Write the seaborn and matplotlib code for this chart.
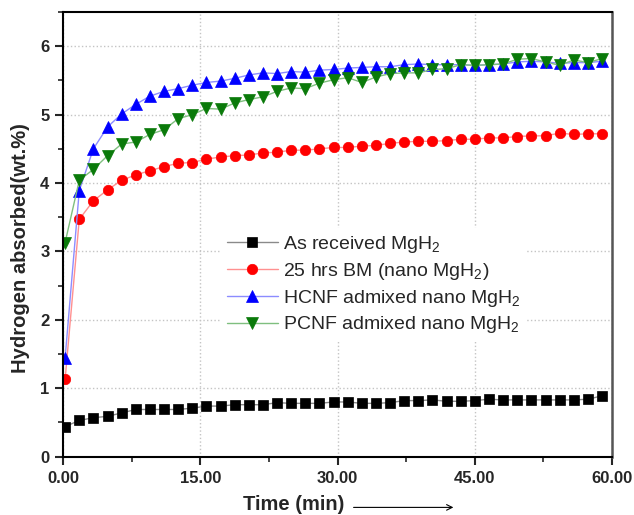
import numpy as np
import pandas as pd
import matplotlib
matplotlib.use("Agg")
import matplotlib.pyplot as plt
import seaborn as sns
from matplotlib.ticker import MultipleLocator, FormatStrFormatter

# time points (min)
time_min = [0.20, 1.75, 3.29, 4.84, 6.38, 7.93, 9.47, 11.02, 12.56, 14.11,
            15.65, 17.20, 18.74, 20.29, 21.83, 23.38, 24.92, 26.47, 28.01, 29.56,
            31.10, 32.65, 34.19, 35.74, 37.28, 38.83, 40.37, 41.92, 43.46, 45.01,
            46.55, 48.10, 49.64, 51.19, 52.73, 54.28, 55.82, 57.37, 58.91]

as_received = [0.44, 0.53, 0.57, 0.59, 0.64, 0.69, 0.69, 0.69, 0.69, 0.71,
               0.74, 0.74, 0.76, 0.76, 0.76, 0.79, 0.78, 0.78, 0.78, 0.80,
               0.80, 0.78, 0.78, 0.79, 0.82, 0.82, 0.83, 0.81, 0.81, 0.82,
               0.84, 0.83, 0.83, 0.83, 0.83, 0.83, 0.83, 0.84, 0.89]

bm_25h = [1.13, 3.47, 3.74, 3.90, 4.04, 4.12, 4.18, 4.24, 4.29, 4.30,
          4.35, 4.38, 4.40, 4.41, 4.44, 4.45, 4.48, 4.48, 4.50, 4.52,
          4.52, 4.54, 4.55, 4.58, 4.60, 4.61, 4.61, 4.62, 4.64, 4.64,
          4.66, 4.66, 4.68, 4.69, 4.69, 4.73, 4.71, 4.72, 4.72]

hcnf = [1.44, 3.89, 4.50, 4.82, 5.01, 5.15, 5.27, 5.34, 5.38, 5.43,
        5.47, 5.49, 5.53, 5.58, 5.61, 5.60, 5.63, 5.62, 5.65, 5.66,
        5.68, 5.69, 5.70, 5.70, 5.73, 5.74, 5.73, 5.73, 5.73, 5.72,
        5.73, 5.74, 5.77, 5.78, 5.77, 5.75, 5.76, 5.76, 5.78]

pcnf = [3.13, 4.04, 4.20, 4.40, 4.57, 4.60, 4.71, 4.78, 4.94, 5.00,
        5.09, 5.08, 5.17, 5.22, 5.26, 5.34, 5.39, 5.38, 5.46, 5.51,
        5.54, 5.47, 5.55, 5.60, 5.61, 5.61, 5.66, 5.67, 5.73, 5.72,
        5.73, 5.74, 5.81, 5.82, 5.77, 5.72, 5.80, 5.76, 5.82]

labels = ["As received MgH$_2$", "25 hrs BM (nano MgH$_2$)",
          "HCNF admixed nano MgH$_2$", "PCNF admixed nano MgH$_2$"]

sns.set_style("white")
plt.rcParams["font.family"] = ["Liberation Sans", "DejaVu Sans"]
plt.rcParams["mathtext.fontset"] = "custom"
plt.rcParams["mathtext.rm"] = "Liberation Sans"
plt.rcParams["mathtext.it"] = "Liberation Sans:italic"
plt.rcParams["mathtext.bf"] = "Liberation Sans:bold"

df = pd.concat([
    pd.DataFrame({"time": time_min, "h2": vals, "sample": lab})
    for vals, lab in zip([as_received, bm_25h, hcnf, pcnf], labels)
])

styles = {
    labels[0]: dict(marker="s", ms=6.5, color="#8a8a8a", mc="black"),
    labels[1]: dict(marker="o", ms=7.5, color="#ff9090", mc="#ff0000"),
    labels[2]: dict(marker="^", ms=8.8, color="#8c8cff", mc="#0000ff"),
    labels[3]: dict(marker="v", ms=8.8, color="#7fbf7f", mc="#0a7a0a"),
}

fig = plt.figure(figsize=(6.34, 5.15), dpi=100)
ax = fig.add_axes([0.0998, 0.1132, 0.8655, 0.8635])

for lab in labels:
    st = styles[lab]
    sns.lineplot(data=df[df["sample"] == lab], x="time", y="h2", ax=ax,
                 errorbar=None, color=st["color"], lw=1.0,
                 marker=st["marker"], ms=st["ms"],
                 markerfacecolor=st["mc"], markeredgecolor=st["mc"],
                 markeredgewidth=0.5, label=lab)

ax.set_xlim(0, 60)
ax.set_ylim(0, 6.5)
ax.xaxis.set_major_locator(MultipleLocator(15))
ax.xaxis.set_minor_locator(MultipleLocator(7.5))
ax.xaxis.set_major_formatter(FormatStrFormatter("%.2f"))
ax.yaxis.set_major_locator(MultipleLocator(1))
ax.yaxis.set_minor_locator(MultipleLocator(0.5))
ax.tick_params(which="major", direction="out", length=6, width=1.5,
               labelsize=12, pad=4, bottom=True, left=True)
ax.tick_params(which="minor", direction="out", length=3.5, width=1.2,
               bottom=True, left=True)
for t in ax.get_xticklabels() + ax.get_yticklabels():
    t.set_fontweight("bold")

ax.grid(True, which="major", linestyle=":", color="#c4c4c4", lw=1.0)
for side in ["left", "bottom", "top"]:
    ax.spines[side].set_color("black")
    ax.spines[side].set_linewidth(1.5)
ax.spines["right"].set_color("#555555")
ax.spines["right"].set_linewidth(1.8)

ax.set_ylabel("Hydrogen absorbed(wt.%)", fontsize=14.5, fontweight="bold")
ax.yaxis.set_label_coords(-0.06, 0.47)
ax.set_xlabel("Time (min)", fontsize=14.5, fontweight="bold")
ax.xaxis.set_label_coords(0.419, -0.085)
ax.annotate("", xy=(0.716, -0.114), xytext=(0.524, -0.114),
            xycoords="axes fraction", textcoords="axes fraction",
            arrowprops=dict(arrowstyle="->", color="black", lw=0.8),
            annotation_clip=False)

leg = ax.legend(loc="upper left", bbox_to_anchor=(0.27, 0.536), fontsize=14,
                frameon=True, facecolor="white", edgecolor="none",
                framealpha=1, fancybox=False, handlelength=2.6,
                handletextpad=0.3, labelspacing=0.3, borderpad=0.3)

fig.savefig("out.png", dpi=100)
